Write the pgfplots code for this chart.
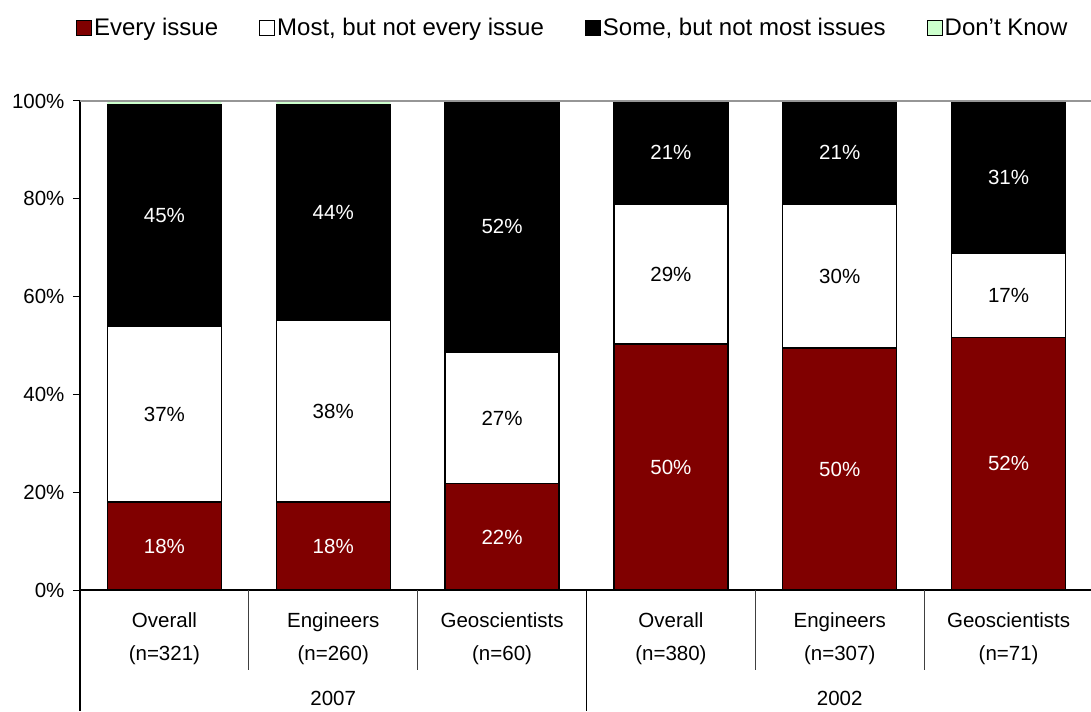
\documentclass[border=0pt]{standalone}
\usepackage{fontspec}
\setmainfont{Liberation Sans}
\usepackage{pgfplots}
\pgfplotsset{compat=1.18}
\definecolor{dkred}{RGB}{128,0,0}
\definecolor{dkgreen}{RGB}{204,255,204}
\definecolor{topgray}{RGB}{150,150,150}
\newcommand{\fs}{\fontsize{20.5bp}{33bp}\selectfont}
\begin{document}
\begin{tikzpicture}
\begin{axis}[name=ax,
    scale only axis,
    width=1013bp, height=489bp,
    ybar stacked, bar width=114bp,
    xmin=-0.5, xmax=5.5, ymin=0, ymax=100,
    enlargelimits=false, clip=false,
    axis x line*=bottom, axis y line*=left,
    axis line style={black, line width=1.2bp, -},
    ytick={0,20,...,100},
    yticklabel={\pgfmathprintnumber{\tick}\%},
    yticklabel style={xshift=-5bp},
    tick align=outside, major tick length=7bp,
    ytick style={black, line width=1bp},
    xtick={0,...,5},
    xtick style={draw=none},
    xticklabels={{Overall\\(n=321)},{Engineers\\(n=260)},{Geoscientists\\(n=60)},
                 {Overall\\(n=380)},{Engineers\\(n=307)},{Geoscientists\\(n=71)}},
    xticklabel style={align=center, anchor=north, inner sep=0pt, yshift=-15bp},
    tick label style={font=\fs},
    /pgf/number format/assume math mode=true,
    legend columns=4,
    legend style={at={(-0.004,1.15)}, anchor=west, draw=none, inner sep=0pt,
        font=\fontsize{24bp}{27bp}\selectfont,
        /tikz/every even column/.append style={column sep=39bp},
        /tikz/column 6/.style={column sep=56bp}},
    legend image code/.code={\draw[#1, draw=black, line width=1bp] (0bp,-7.5bp) rectangle (15bp,7.5bp);},
  ]
  % frame line at 100%
  \draw[topgray, line width=1.5bp] (rel axis cs:0,1) -- (rel axis cs:1,1);

  \addplot[fill=dkred, draw=black, line width=1.2bp] coordinates
    {(0,18.0) (1,18.0) (2,21.7) (3,50.3) (4,49.5) (5,51.7)};
  \addplot[fill=white, draw=black, line width=1.2bp] coordinates
    {(0,36.0) (1,37.2) (2,26.8) (3,28.6) (4,29.4) (5,17.2)};
  \addplot[fill=black, draw=black, line width=1.2bp] coordinates
    {(0,45.3) (1,44.1) (2,51.5) (3,21.1) (4,21.1) (5,31.1)};
  \addplot[fill=dkgreen, draw=none] coordinates
    {(0,0.7) (1,0.7) (2,0) (3,0) (4,0) (5,0)};
  \legend{Every issue, {Most, but not every issue}, {Some, but not most issues}, Don't Know}

  % category separators below the axis
  \draw[black!75, line width=1bp] (axis cs:0.5,0) -- ([yshift=-80bp]axis cs:0.5,0);
  \draw[black!75, line width=1bp] (axis cs:1.5,0) -- ([yshift=-80bp]axis cs:1.5,0);
  \draw[black!75, line width=1bp] (axis cs:3.5,0) -- ([yshift=-80bp]axis cs:3.5,0);
  \draw[black!75, line width=1bp] (axis cs:4.5,0) -- ([yshift=-80bp]axis cs:4.5,0);
  \draw[black, line width=1.2bp] (axis cs:-0.5,0) -- ([yshift=-121bp]axis cs:-0.5,0);
  \draw[black, line width=1.2bp] (axis cs:2.5,0) -- ([yshift=-121bp]axis cs:2.5,0);
  \node[anchor=base, font=\fs] at ([yshift=-115.5bp]axis cs:1,0) {2007};
  \node[anchor=base, font=\fs] at ([yshift=-115.5bp]axis cs:4,0) {2002};
\end{axis}

% value labels, centred in each slice
\begin{axis}[at={(ax.south west)}, anchor=south west,
    scale only axis, width=1013bp, height=489bp,
    xmin=-0.5, xmax=5.5, ymin=0, ymax=100, hide axis, clip=false,
    nodes near coords, point meta=explicit symbolic,
    every node near coord/.append style={anchor=center, font=\fs, inner sep=0pt},
  ]
  \addplot[draw=none, mark=none, nodes near coords style={text=white}] coordinates
    {(0,9.0)[18\%] (1,9.0)[18\%] (2,10.85)[22\%] (3,25.15)[50\%] (4,24.75)[50\%] (5,25.85)[52\%]};
  \addplot[draw=none, mark=none, nodes near coords style={text=black}] coordinates
    {(0,36.0)[37\%] (1,36.6)[38\%] (2,35.1)[27\%] (3,64.6)[29\%] (4,64.2)[30\%] (5,60.3)[17\%]};
  \addplot[draw=none, mark=none, nodes near coords style={text=white}] coordinates
    {(0,76.65)[45\%] (1,77.25)[44\%] (2,74.25)[52\%] (3,89.45)[21\%] (4,89.45)[21\%] (5,84.45)[31\%]};
\end{axis}

\pgfresetboundingbox
\path[use as bounding box] ([shift={(-80bp,-121bp)}]ax.south west) rectangle ([shift={(-2bp,101bp)}]ax.north east);
\end{tikzpicture}
\end{document}
